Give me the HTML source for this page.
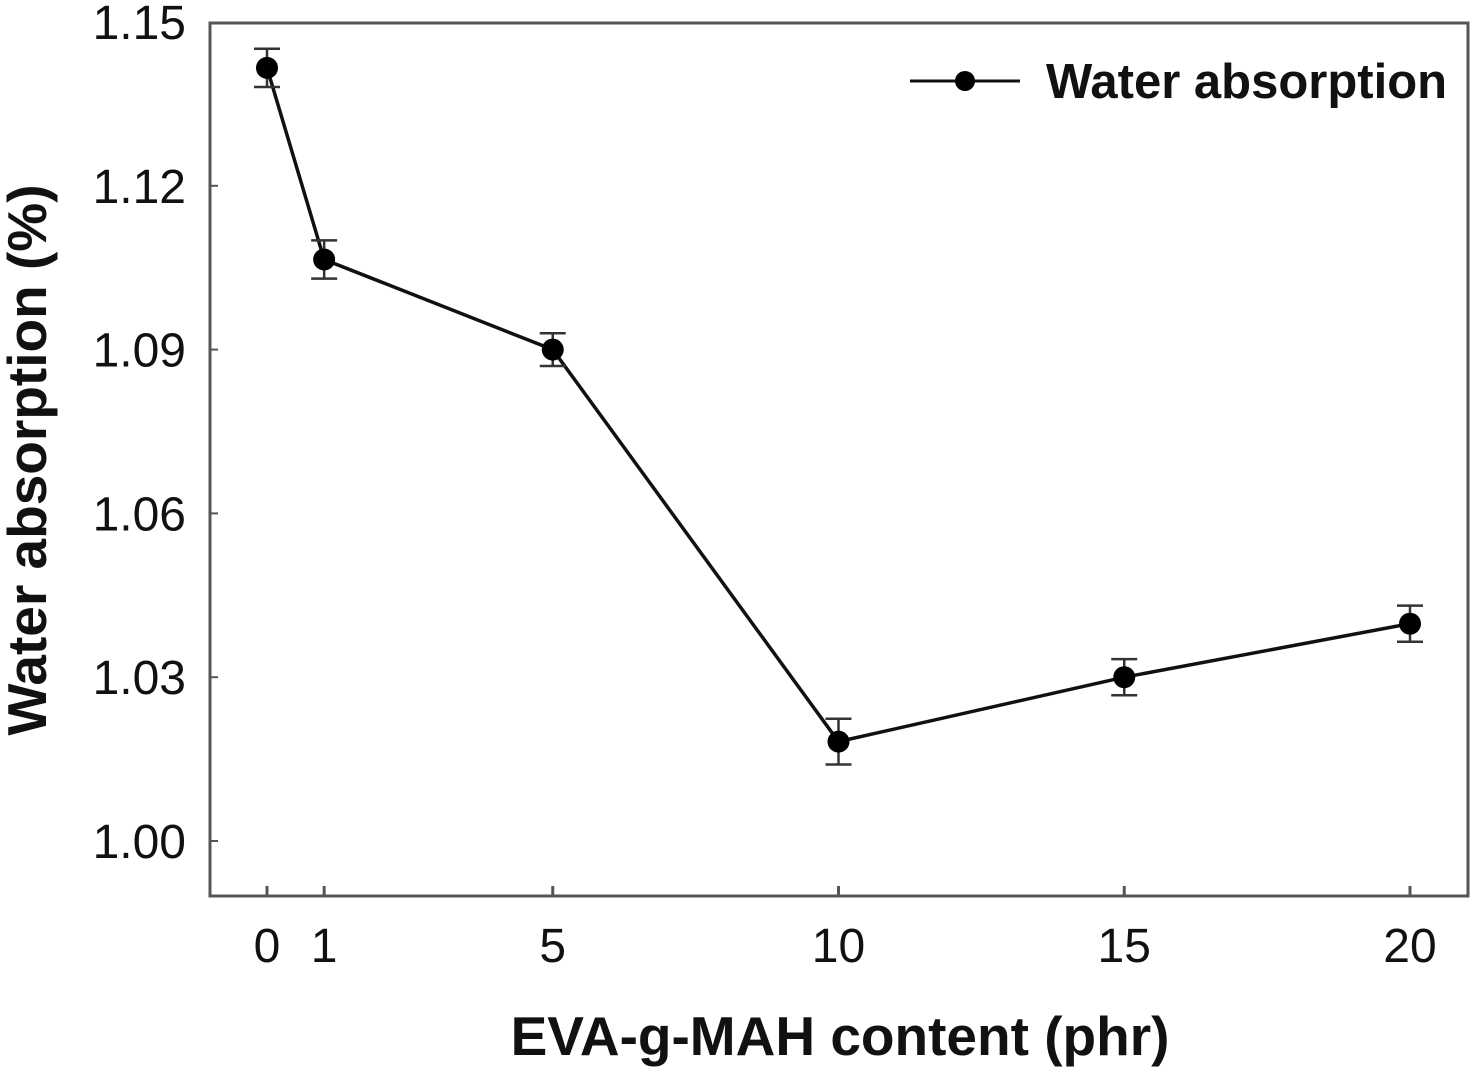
<!DOCTYPE html>
<html><head><meta charset="utf-8"><style>
html,body{margin:0;padding:0;background:#fff;}
svg{display:block;font-family:"Liberation Sans",Arial,sans-serif;}
</style></head><body>
<svg id="chart" width="1476" height="1068" viewBox="0 0 1476 1068">
<rect x="210" y="23" width="1258" height="873" fill="none" stroke="#555" stroke-width="3"/>
<g id="ticks"></g>
<g id="series"></g>
<text x="840" y="1055" text-anchor="middle" font-size="55" font-weight="bold" fill="#111">EVA-g-MAH content (phr)</text>
<text transform="translate(46,460) rotate(-90)" text-anchor="middle" font-size="55" font-weight="bold" fill="#111">Water absorption (%)</text>
<g>
<line x1="910" y1="81" x2="1020" y2="81" stroke="#111" stroke-width="3"/>
<circle cx="965" cy="81" r="10" fill="#000"/>
<text x="1046" y="98" font-size="49" font-weight="bold" fill="#111">Water absorption</text>
</g>
</svg>
<script>
const categories = [0, 1, 5, 10, 15, 20];
const values = [1.1416, 1.1065, 1.0900, 1.0182, 1.0300, 1.0398];
const errors = [0.0035, 0.0035, 0.0030, 0.0042, 0.0033, 0.0033];
const yTicks = [1.00, 1.03, 1.06, 1.09, 1.12, 1.15];
const yTickLabels = ["1.00", "1.03", "1.06", "1.09", "1.12", "1.15"];
const xTicks = [0, 1, 5, 10, 15, 20];

const NS = "http://www.w3.org/2000/svg";
function xs(v){ return 267 + (v - 0) * (1410 - 267) / 20; }
function ys(v){ return 841 - (v - 1.00) * (841 - 22) / 0.15; }
function mk(tag, attrs, parent){
  const e = document.createElementNS(NS, tag);
  for (const k in attrs) e.setAttribute(k, attrs[k]);
  parent.appendChild(e); return e;
}
const tg = document.getElementById('ticks');
yTicks.forEach((t, i) => {
  const y = ys(t);
  if (i < yTicks.length - 1) {
    const l = mk('line', {x1:210, y1:y, x2:218, y2:y, stroke:'#555', 'stroke-width':2}, tg);
    
    
  }
  const tx = mk('text', {x:186, y:y+17, 'text-anchor':'end', 'font-size':48, fill:'#111'}, tg);
  tx.textContent = yTickLabels[i];
  
  
});
xTicks.forEach(t => {
  const x = xs(t);
  const l = mk('line', {x1:x, y1:896, x2:x, y2:886, stroke:'#555', 'stroke-width':3}, tg);
  
  
  const tx = mk('text', {x:x, y:962, 'text-anchor':'middle', 'font-size':48, fill:'#111'}, tg);
  tx.textContent = String(t);
  
  
});
const sg = document.getElementById('series');
const pts = categories.map((c, i) => xs(c) + ',' + ys(values[i])).join(' ');
const pl = mk('polyline', {points:pts, fill:'none', stroke:'#111', 'stroke-width':3.5}, sg);


categories.forEach((c, i) => {
  const x = xs(c), y1 = ys(values[i] + errors[i]), y2 = ys(values[i] - errors[i]);
  const g = mk('g', {}, sg);
  
  
  mk('line', {x1:x, y1:y1, x2:x, y2:y2, stroke:'#333', 'stroke-width':2.5}, g);
  mk('line', {x1:x-13, y1:y1, x2:x+13, y2:y1, stroke:'#333', 'stroke-width':2.5}, g);
  mk('line', {x1:x-13, y1:y2, x2:x+13, y2:y2, stroke:'#333', 'stroke-width':2.5}, g);
  mk('circle', {cx:x, cy:ys(values[i]), r:11, fill:'#000'}, g);
});
</script>
</body></html>
